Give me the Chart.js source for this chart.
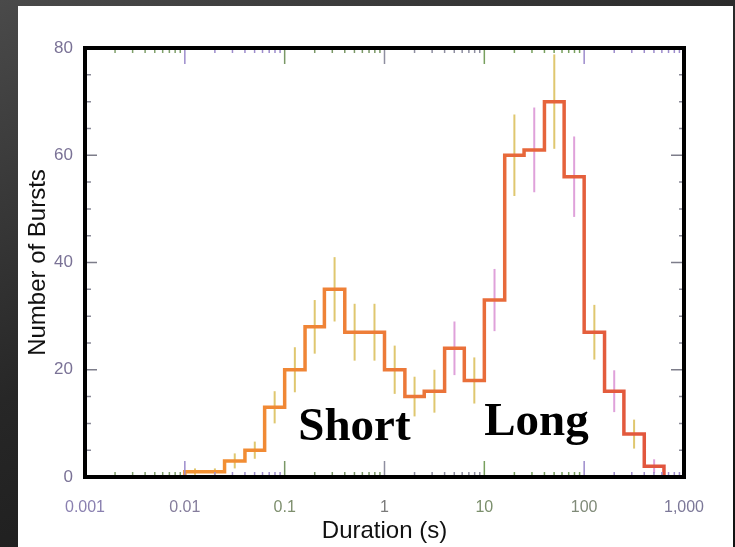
<!DOCTYPE html>
<html lang="en">
<head>
<meta charset="UTF-8">
<title>Burst durations</title>
<style>
  html, body { margin: 0; padding: 0; }
  body {
    width: 735px; height: 547px; overflow: hidden; position: relative;
    background: linear-gradient(155deg, #4a4a4a 0%, #272727 45%, #121212 100%);
  }
  #paper { position: absolute; left: 18px; top: 6px; width: 715px; height: 541px; background: #fff; }
  #chart { position: absolute; left: 0; top: 0; }
</style>
</head>
<body>
<div id="paper"></div>
<canvas id="chart" width="735" height="547"></canvas>

<script src="https://cdn.jsdelivr.net/npm/chart.js"></script>
<script>
  // log bins, 0.2 dex wide (left edges + last right edge)
  const binEdges = [0.01, 0.016, 0.025, 0.04, 0.063, 0.1, 0.16, 0.25, 0.4, 0.63,
                    1, 1.6, 2.5, 4, 6.3, 10, 16, 25, 40, 63, 100, 160, 250, 400, 630];
  const burstCounts = [1, 1, 3, 5, 13, 20, 28, 35, 27, 27, 20, 15, 16,
                       24, 18, 33, 60, 61, 70, 56, 27, 16, 8, 2];
  const barErrors = [0.6, 0.6, 1.4, 1.6, 3, 4.2, 5, 6, 5.3, 5.3, 4.5, 3.7, 4,
                     5, 4.3, 5.8, 7.6, 7.9, 8.8, 7.5, 5.1, 3.9, 2.7, 1.3];

  const xTickValues = [0.001, 0.01, 0.1, 1, 10, 100, 1000];
  const xTickLabels = ['0.001', '0.01', '0.1', '1', '10', '100', '1,000'];
  const yTickValues = [0, 20, 40, 60, 80];
  const yTickLabels = ['0', '20', '40', '60', '80'];

  const notes = [
    { text: 'Short', x: 0.5, y: 6.9 },
    { text: 'Long', x: 33.3, y: 7.8 }
  ];

  // step line points: start at zero, one point per bin, drop back to zero
  const histData = [{ x: binEdges[0], y: 0 }];
  burstCounts.forEach((c, i) => histData.push({ x: binEdges[i], y: c }));
  histData.push({ x: binEdges[burstCounts.length], y: 0 });

  const xLabelColors = ['#8a80b0', '#857d9c', '#7e8f6e', '#7a7a7a', '#7b8f6c', '#7f8a78', '#7c7898'];
  const tickInk = ['#7fa06a', '#9d8ccc', '#7a9866', '#8e8ea0', '#78a05e', '#9d8ccc'];

  const decor = {
    id: 'decor',
    beforeDatasetsDraw(chart) {
      const { ctx, chartArea: ca, scales: { x, y } } = chart;
      ctx.save();
      ctx.beginPath();
      ctx.rect(ca.left, ca.top, ca.right - ca.left, ca.bottom - ca.top);
      ctx.clip();
      ctx.lineWidth = 2;
      burstCounts.forEach((c, i) => {
        const px = x.getPixelForValue(Math.sqrt(binEdges[i] * binEdges[i + 1]));
        ctx.strokeStyle = (i > 12 && i % 2) ? 'rgba(212,130,205,0.75)' : 'rgba(215,185,75,0.8)';
        ctx.beginPath();
        ctx.moveTo(px, y.getPixelForValue(c - barErrors[i]));
        ctx.lineTo(px, y.getPixelForValue(c + barErrors[i]));
        ctx.stroke();
      });
      ctx.restore();
    },
    afterDraw(chart) {
      const { ctx, chartArea: ca, scales: { x, y } } = chart;
      ctx.save();
      ctx.lineWidth = 1.5;
      // inner tick marks, x (top and bottom)
      x.ticks.forEach(t => {
        if (t.value <= x.min || t.value >= x.max) return;
        const px = x.getPixelForValue(t.value);
        const len = t.major ? 16 : 5;
        ctx.strokeStyle = tickInk[Math.floor(Math.log10(t.value) + 3.0001) % tickInk.length];
        ctx.beginPath();
        ctx.moveTo(px, ca.top); ctx.lineTo(px, ca.top + len);
        ctx.moveTo(px, ca.bottom); ctx.lineTo(px, ca.bottom - len);
        ctx.stroke();
      });
      // inner tick marks, y (left and right)
      y.ticks.forEach(t => {
        if (t.value <= y.min || t.value >= y.max) return;
        const py = y.getPixelForValue(t.value);
        const major = t.value % 20 === 0;
        ctx.strokeStyle = major ? '#7d7d8a' : '#8a8a98';
        ctx.beginPath();
        ctx.moveTo(ca.left, py); ctx.lineTo(ca.left + (major ? 12 : 6), py);
        ctx.moveTo(ca.right, py); ctx.lineTo(ca.right - (major ? 13 : 5), py);
        ctx.stroke();
      });
      // frame
      ctx.strokeStyle = '#000';
      ctx.lineWidth = 4;
      ctx.strokeRect(ca.left, ca.top, ca.right - ca.left, ca.bottom - ca.top);
      // Short / Long
      ctx.fillStyle = '#000';
      ctx.font = 'bold 47px "Liberation Serif", "Times New Roman", serif';
      ctx.textAlign = 'center';
      ctx.textBaseline = 'alphabetic';
      notes.forEach(n => ctx.fillText(n.text, x.getPixelForValue(n.x), y.getPixelForValue(n.y)));
      ctx.restore();
    }
  };

  const ctx = document.getElementById('chart').getContext('2d');
  new Chart(ctx, {
    type: 'line',
    data: {
      datasets: [{
        label: 'Bursts',
        data: histData,
        stepped: 'before',
        borderWidth: 3.5,
        borderColor: c => {
          const ca = c.chart.chartArea;
          if (!ca) return '#ea7a38';
          const g = c.chart.ctx.createLinearGradient(ca.left, 0, ca.right, 0);
          g.addColorStop(0, '#f6a02e');
          g.addColorStop(0.45, '#ee7f38');
          g.addColorStop(1, '#e0513e');
          return g;
        },
        pointRadius: 0,
        fill: false
      }]
    },
    options: {
      responsive: false,
      animation: false,
      devicePixelRatio: 1,
      layout: { padding: { left: 0, top: 48, right: 51, bottom: 0 } },
      plugins: { legend: { display: false }, tooltip: { enabled: false } },
      scales: {
        x: {
          type: 'logarithmic',
          min: 0.001,
          max: 1000,
          grid: { display: false },
          border: { display: false },
          afterBuildTicks: scale => {
            const list = [];
            xTickValues.forEach((v, k) => {
              list.push({ value: v, major: true });
              if (k < xTickValues.length - 1) {
                for (let m = 2; m <= 9; m++) list.push({ value: v * m, major: false });
              }
            });
            scale.ticks = list;
          },
          afterFit: scale => { scale.height = 70; },
          ticks: {
            autoSkip: false,
            maxRotation: 0,
            minRotation: 0,
            padding: 13,
            font: { family: '"Liberation Sans", Arial, sans-serif', size: 16 },
            color: c => xLabelColors[Math.max(0, xTickValues.indexOf(c.tick && c.tick.value))] || '#7a7a7a',
            callback: value => {
              const k = xTickValues.indexOf(value);
              return k >= 0 ? xTickLabels[k] : '';
            }
          },
          title: {
            display: true,
            text: 'Duration (s)',
            color: '#111',
            font: { family: '"Liberation Sans", Arial, sans-serif', size: 24 },
            padding: { top: 0, bottom: 1 }
          }
        },
        y: {
          min: 0,
          max: 80,
          grid: { display: false },
          border: { display: false },
          afterFit: scale => { scale.width = 85; },
          ticks: {
            stepSize: 5,
            autoSkip: false,
            padding: 4,
            color: '#7a7296',
            font: { family: '"Liberation Sans", Arial, sans-serif', size: 17 },
            callback: value => {
              const k = yTickValues.indexOf(value);
              return k >= 0 ? yTickLabels[k] : '';
            }
          },
          title: {
            display: true,
            text: 'Number of Bursts',
            color: '#111',
            font: { family: '"Liberation Sans", Arial, sans-serif', size: 24 },
            padding: { top: 24, bottom: 0 }
          }
        }
      }
    },
    plugins: [decor]
  });
</script>
</body>
</html>
